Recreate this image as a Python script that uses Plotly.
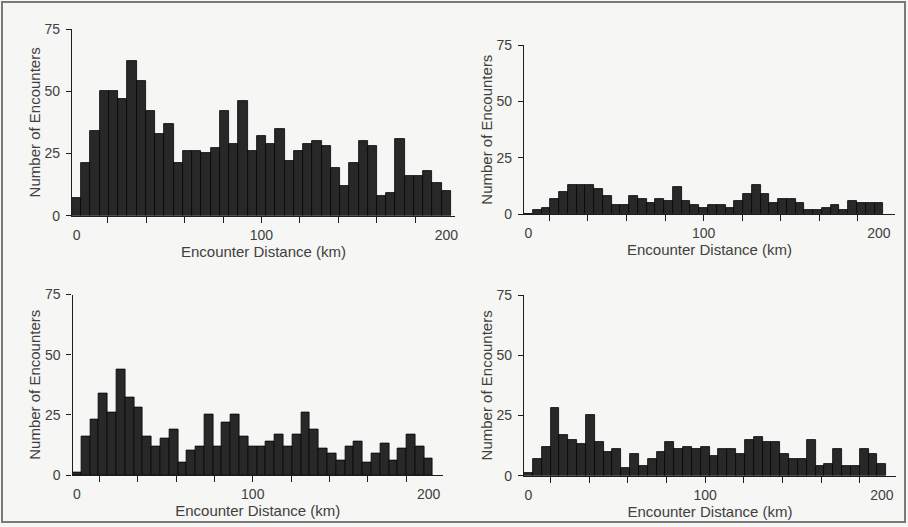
import plotly.graph_objects as go

# Distance bins (km), one bar per 5 km bin
distance_bins = list(range(0, 205, 5))

# Number of encounters per bin, one series per panel
panel_a = [7, 21, 34, 50, 50, 47, 62, 54, 42, 33, 37, 21, 26, 26, 25, 27, 42, 29, 46, 26, 32,
           29, 35, 22, 26, 29, 30, 28, 19, 12, 21, 30, 28, 8, 9, 31, 16, 16, 18, 13, 10]
panel_b = [0, 2, 3, 7, 10, 13, 13, 13, 11, 8, 4, 4, 8, 7, 5, 7, 6, 12, 6, 4, 3,
           4, 4, 3, 6, 9, 13, 9, 5, 7, 7, 5, 2, 2, 3, 4, 2, 6, 5, 5, 5]
panel_c = [1, 16, 23, 34, 26, 44, 32, 28, 16, 12, 15, 19, 5, 10, 12, 25, 12, 22, 25, 16, 12,
           12, 14, 17, 12, 17, 26, 19, 11, 9, 6, 12, 14, 5, 9, 13, 6, 11, 17, 12, 7]
panel_d = [1, 7, 12, 28, 17, 15, 13, 25, 14, 10, 11, 3, 9, 4, 7, 10, 14, 11, 12, 11, 12,
           8, 11, 11, 9, 15, 16, 14, 14, 9, 7, 7, 15, 4, 5, 11, 4, 4, 11, 9, 5]

x_tick_labels = ["0", "100", "200"]
x_tick_values = [0, 100, 200]
y_tick_values = [0, 25, 50, 75]
x_title = "Encounter Distance (km)"
y_title = "Number of Encounters"

W, H = 908, 527
FONT = "Liberation Sans, Arial, sans-serif"
TXT = "#404040"
AX = "#1e1e1e"
BG = "#f6f6f4"

# pixel geometry per panel: (x_left, x_right, y_top, y_bottom, x_max, minor step)
panels = [
    (panel_a, 72, 455, 29, 215.7, 204.7, 20.8),
    (panel_b, 524, 895, 45, 214.3, 209.2, 22.0),
    (panel_c, 72.5, 443, 294.5, 475, 208.2, 21.8),
    (panel_d, 524, 896, 295, 475.7, 208.0, 21.9),
]

fig = go.Figure()
layout = {}
for i, (vals, xl, xr, yt, yb, xmax, step) in enumerate(panels, start=1):
    sfx = "" if i == 1 else str(i)
    fig.add_trace(go.Bar(
        x=distance_bins, y=vals, width=5,
        marker=dict(color="#282828", line=dict(color="#050505", width=0.8)),
        xaxis="x" + sfx, yaxis="y" + sfx, showlegend=False,
    ))
    minor_vals = [100 + k * step + (0.05 if k == 0 else 0) for k in range(-4, 5)]
    layout["xaxis" + sfx] = dict(
        domain=[xl / W, xr / W], range=[-2.5, xmax], anchor="y" + sfx,
        showline=True, linecolor=AX, linewidth=1.2, showgrid=False, zeroline=False,
        tickmode="array", tickvals=x_tick_values, ticktext=x_tick_labels,
        ticks="outside", ticklen=6, tickcolor="rgba(0,0,0,0)",
        tickfont=dict(family=FONT, size=14, color=TXT),
        minor=dict(tickvals=minor_vals, ticks="outside", ticklen=6, tickwidth=1.2,
                   tickcolor=AX, showgrid=False),
        title=dict(text=x_title, font=dict(family=FONT, size=15, color=TXT), standoff=2),
        automargin=False, fixedrange=True,
    )
    layout["yaxis" + sfx] = dict(
        domain=[1 - yb / H, 1 - yt / H], range=[0, 75], anchor="x" + sfx,
        showline=True, linecolor=AX, linewidth=1.2, showgrid=False, zeroline=False,
        tickmode="array", tickvals=y_tick_values, ticks="outside", ticklen=5,
        tickwidth=1, tickcolor=AX, ticklabelstandoff=3,
        tickfont=dict(family=FONT, size=14, color=TXT),
        title=dict(text=y_title, font=dict(family=FONT, size=15, color=TXT), standoff=0),
        automargin=False, fixedrange=True,
    )

fig.update_layout(
    template="none",
    width=W, height=H,
    margin=dict(l=0, r=0, t=0, b=0),
    paper_bgcolor=BG, plot_bgcolor=BG,
    bargap=0,
    showlegend=False,
    shapes=[dict(type="rect", xref="paper", yref="paper",
                 x0=2 / W, x1=1 - 3 / W, y0=1 - 522 / H, y1=1 - 2 / H,
                 line=dict(color="#7a7a7a", width=2), fillcolor="rgba(0,0,0,0)",
                 layer="below")],
    **layout,
)

fig.write_html("out.html")
